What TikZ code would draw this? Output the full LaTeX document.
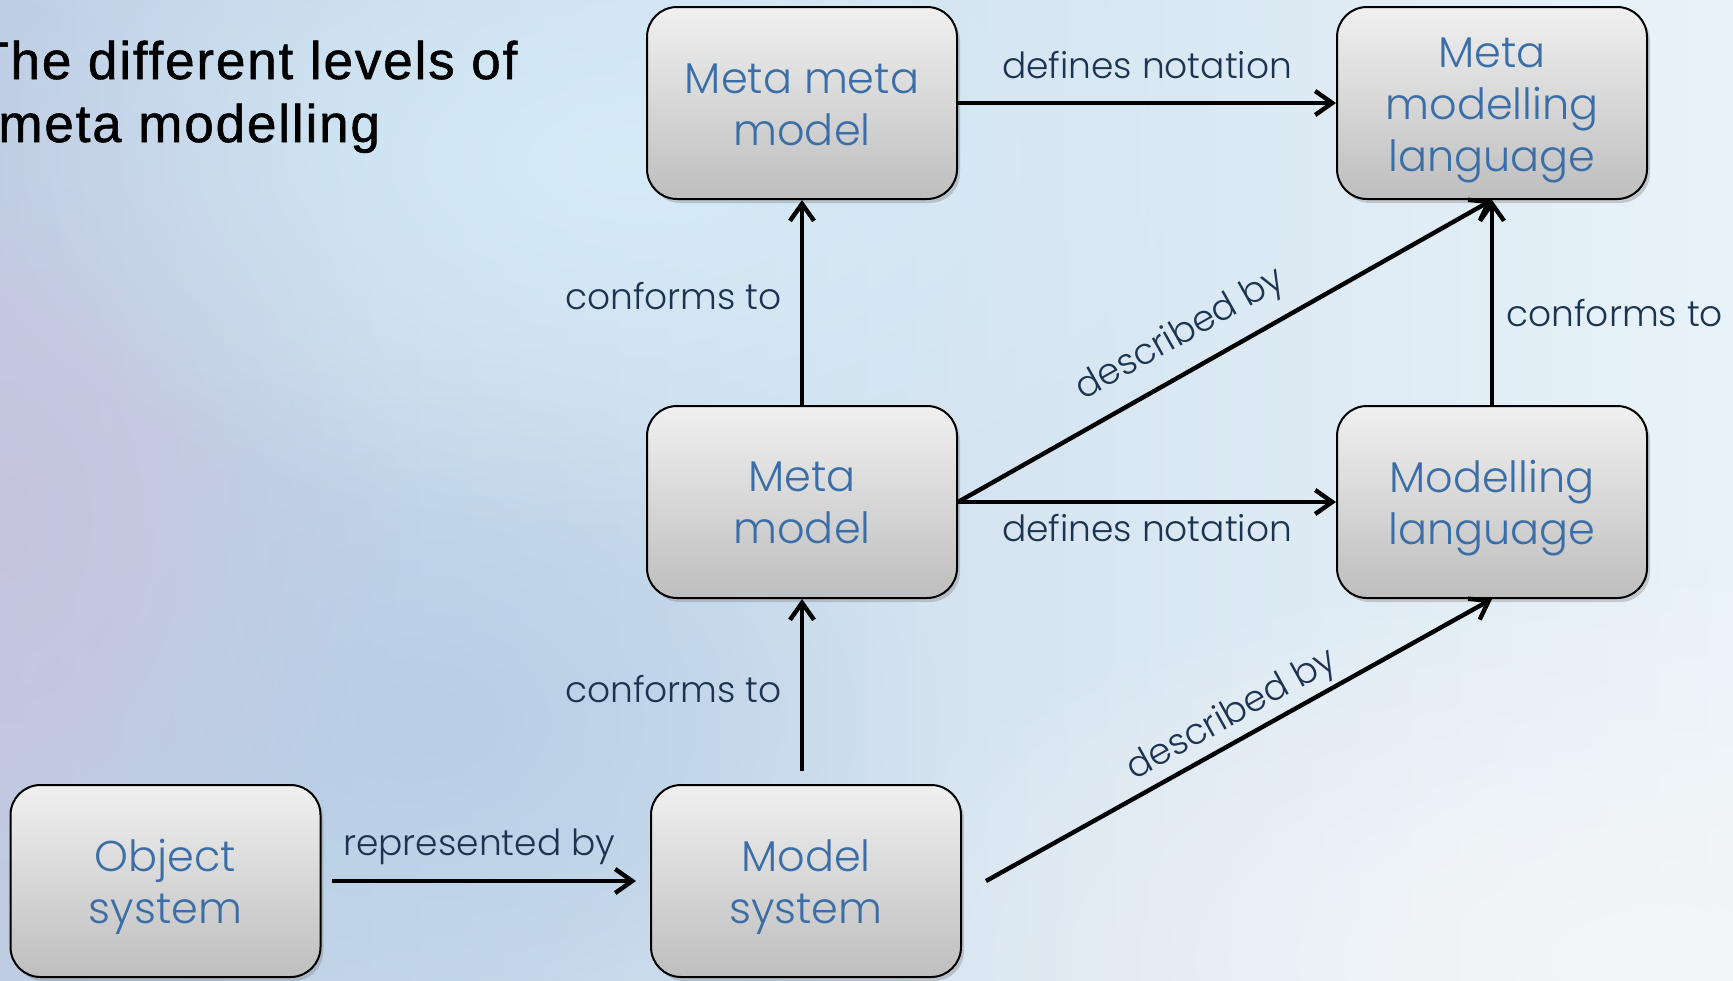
\documentclass[tikz,border=0pt]{standalone}
\usepackage{fontspec}
\usetikzlibrary{arrows.meta,shadows,fadings}
\newfontfamily\lightfont{Poppins Light}
\newfontfamily\titlefont{Liberation Sans}[LetterSpace=3.5,FakeBold=1.0]
\definecolor{nodetext}{HTML}{3B6EA6}
\definecolor{labtext}{HTML}{1C3450}
\definecolor{boxtop}{HTML}{F0F0F0}
\definecolor{boxbot}{HTML}{BEBEBE}
\definecolor{bgL}{HTML}{BDD0E6}
\definecolor{bgR}{HTML}{E8F3F9}
\definecolor{lav}{HTML}{C6C4DD}
\definecolor{midblue}{HTML}{B6CFE6}
\definecolor{cyanglow}{HTML}{D6EDF8}
\definecolor{whiteglow}{HTML}{F5F6F7}
\tikzfading[name=softfade, inner color=transparent!0, outer color=transparent!100]
\begin{document}
\begin{tikzpicture}[x=0.5pt,y=-0.5pt,
  box/.style={draw=black, line width=1pt, rounded corners=15pt,
    minimum width=155pt, minimum height=96pt,
    top color=boxtop, bottom color=boxbot, inner sep=0pt,
    drop shadow={shadow xshift=1.5pt, shadow yshift=-2pt, opacity=0.35}},
  boxtext/.style={align=center, text=nodetext, inner sep=0pt,
    font=\lightfont\fontsize{21.5pt}{26pt}\selectfont},
  conn/.style={line width=2.2pt, -{Straight Barb[length=8.5pt,width=12pt]}},
  lab/.style={text=labtext, font=\lightfont\fontsize{18pt}{21pt}\selectfont, inner sep=0pt}]
% background
\useasboundingbox (0,0) rectangle (1733,980);
\fill[left color=bgL, right color=bgR] (0,0) rectangle (1733,980);
\fill[midblue, path fading=softfade] (420,720) ellipse (260pt and 180pt);
\fill[lav, path fading=softfade] (0,520) ellipse (200pt and 280pt);
\fill[cyanglow, path fading=softfade, opacity=0.9] (620,160) ellipse (340pt and 190pt);
\fill[whiteglow, path fading=softfade] (1650,960) ellipse (420pt and 200pt);
% title
\node[font=\titlefont\fontsize{26.5pt}{31.5pt}\selectfont, align=left, anchor=base west, inner sep=0pt]
  (title) at (-24,142) {The different levels of\\\hspace*{11pt}meta modelling};
% nodes
\node[box, label={[boxtext, yshift=-1.1pt]center:Meta meta\\model}] (mmm) at (802,103) {};
\node[box, label={[boxtext, yshift=-3.5pt]center:Meta\\modelling\\language}] (mml) at (1492,103) {};
\node[box, label={[boxtext, yshift=-0.5pt]center:Meta\\model}] (mm) at (802,502) {};
\node[box, label={[boxtext, yshift=-3pt]center:Modelling\\language}] (ml) at (1492,502) {};
\node[box, label={[boxtext, yshift=-3pt]center:Object\\system}] (os) at (165.5,881) {};
\node[box, label={[boxtext, yshift=-3pt]center:Model\\system}] (ms) at (806,881) {};
\coordinate (msup) at (802,771);
\coordinate (msright) at (986,881);
% connectors
\draw[conn] (mm.north) -- node[lab, pos=0.53, left=9pt] {conforms to} (mmm.south);
\draw[conn] (msup) -- node[lab, pos=0.474, left=9pt] {conforms to} (mm.south);
\draw[conn] (mmm.east) -- node[lab, midway, above=11pt] {defines notation} (mml.west);
\draw[conn] (mm.east) -- node[lab, midway, below=5pt] {defines notation} (ml.west);
\draw[conn] (mm.east) -- node[lab, pos=0.45, sloped, above=7.5pt] {described by} (mml.south);
\draw[conn] (ml.north) -- node[lab, pos=0.447, right=6pt] {conforms to} (mml.south);
\draw[conn] (msright) -- node[lab, pos=0.51, sloped, above=2pt] {described by} (ml.south);
\draw[conn, shorten <=5pt, shorten >=7pt] (os.east) -- node[lab, pos=0.48, above=7pt] {represented by} (ms.west);
\end{tikzpicture}
\end{document}
